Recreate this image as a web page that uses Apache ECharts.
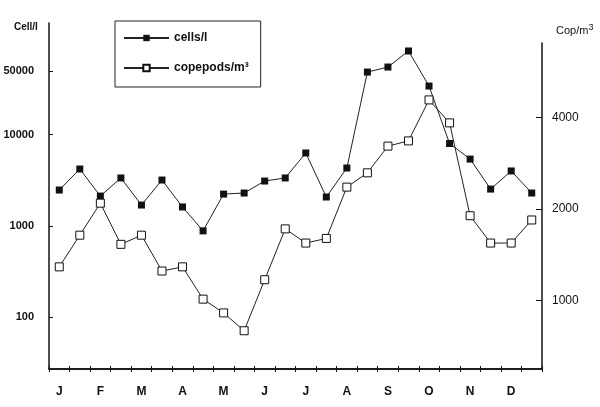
<!DOCTYPE html>
<html>
<head>
<meta charset="utf-8">
<script src="https://cdn.jsdelivr.net/npm/echarts@6/dist/echarts.min.js"></script>
<style>html,body{margin:0;padding:0;background:#fff;}#c{width:600px;height:407px;}</style>
</head>
<body>
<div id="c"></div>
<script>
// 24 half-month samples, labelled with the month initial at the first sample of each month
const categories = ['J','','F','','M','','A','','M','','J','','J','','A','','S','','O','','N','','D',''];
const cellsPerLitre = [2470,4200,2120,3350,1690,3180,1610,880,2230,2290,3100,3350,6300,2070,4310,48700,55300,83000,34200,8000,5400,2530,4000,2290];
const copepodsPerM3 = [1290,1640,2090,1530,1640,1250,1290,1010,910,795,1170,1720,1545,1600,2360,2630,3220,3350,4570,3840,1900,1545,1545,1840];
const leftTicks = [100,1000,10000,50000];
const rightTicks = [1000,2000,4000];

const FONT = '"Liberation Sans", Arial, sans-serif';
const plain = v => String(Math.round(v));
const chart = echarts.init(document.getElementById('c'), null, {renderer:'canvas'});
const axisLineStyle = {color:'#111', width:1.5};
chart.setOption({
  backgroundColor:'#fff',
  animation:false,
  title:[
    {text:'Cell/l', left:9, top:17, textStyle:{fontFamily:FONT, fontSize:10, fontWeight:'bold', color:'#111'}},
    {text:'Cop/m{s|3}', left:551, top:18, textStyle:{fontFamily:FONT, fontSize:11, fontWeight:'normal', color:'#111',
      rich:{s:{fontFamily:FONT, fontSize:9, color:'#111', padding:[0,0,7,0]}}}}
  ],
  legend:{
    left:115, top:21, orient:'vertical',
    borderColor:'#222', borderWidth:1,
    padding:[11,12,13,8],
    itemWidth:45, itemHeight:8, itemGap:18,
    textStyle:{fontFamily:FONT, fontSize:12, fontWeight:'bold', color:'#111'},
    data:['cells/l','copepods/m³']
  },
  grid:[
    {left:49, right:58, top:23, bottom:38},
    {left:49, right:58, top:43, bottom:38}
  ],
  xAxis:[
    {type:'category', gridIndex:0, data:categories, boundaryGap:true,
      axisLine:{lineStyle:axisLineStyle},
      axisTick:{show:true, interval:0, inside:false, length:3, lineStyle:{color:'#111'}},
      axisLabel:{interval:0, margin:17, fontFamily:FONT, fontSize:12, fontWeight:'bold', color:'#111'}},
    {type:'category', gridIndex:1, data:categories, boundaryGap:true,
      axisLine:{lineStyle:axisLineStyle},
      axisTick:{show:true, interval:0, inside:true, length:3, lineStyle:{color:'#111'}},
      axisLabel:{show:false}}
  ],
  yAxis:[
    {type:'log', logBase:10, gridIndex:0, position:'left', min:26.8, max:168300,
      axisLine:{show:true, lineStyle:axisLineStyle},
      splitLine:{show:false},
      axisTick:{show:true, inside:true, length:4, customValues:leftTicks, lineStyle:{color:'#111'}},
      axisLabel:{customValues:leftTicks, formatter:plain, margin:15, fontFamily:FONT, fontSize:11, fontWeight:'bold', color:'#111'}},
    {type:'log', logBase:10, gridIndex:1, position:'right', min:595, max:7033,
      axisLine:{show:true, lineStyle:axisLineStyle},
      splitLine:{show:false},
      axisTick:{show:true, inside:true, length:6, customValues:rightTicks, lineStyle:{color:'#111'}},
      axisLabel:{customValues:rightTicks, formatter:plain, margin:10, fontFamily:FONT, fontSize:12, fontWeight:'normal', color:'#111'}}
  ],
  series:[
    {name:'cells/l', type:'line', xAxisIndex:0, yAxisIndex:0, data:cellsPerLitre,
      symbol:'rect', symbolSize:7, showAllSymbol:true,
      lineStyle:{color:'#222', width:1},
      itemStyle:{color:'#111', borderColor:'#111', borderWidth:0}},
    {name:'copepods/m³', type:'line', xAxisIndex:1, yAxisIndex:1, data:copepodsPerM3,
      symbol:'rect', symbolSize:8, showAllSymbol:true,
      lineStyle:{color:'#222', width:1},
      itemStyle:{color:'#fff', borderColor:'#111', borderWidth:1}}
  ]
});
</script>
</body>
</html>
